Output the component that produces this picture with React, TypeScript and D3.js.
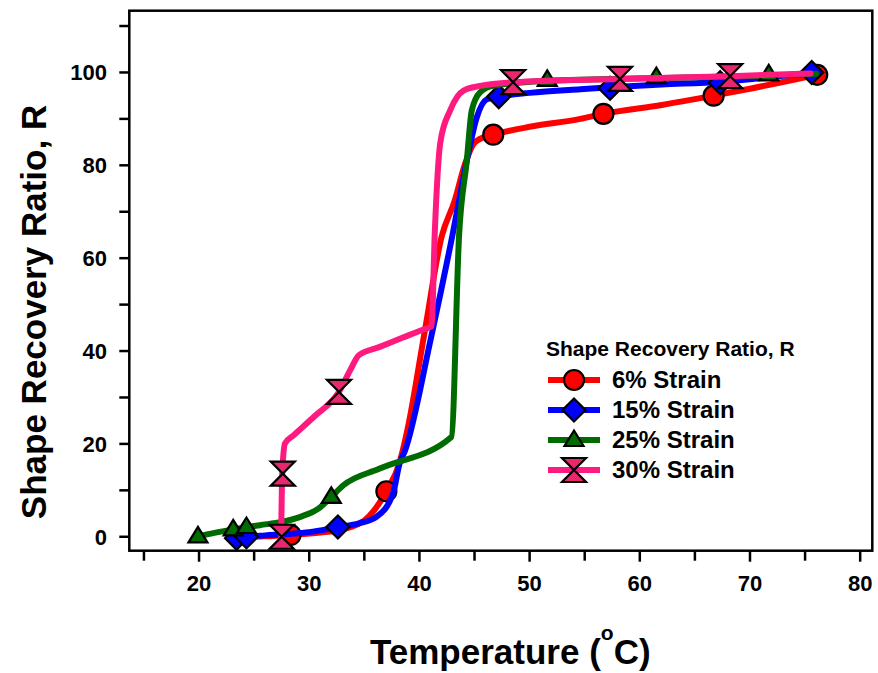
import React from "react";
import * as d3 from "d3";

type P = [number, number];

const xTicksMajor = [20, 30, 40, 50, 60, 70, 80];
const xTicksMinor = [15, 25, 35, 45, 55, 65, 75];
const yTicksMajor = [0, 20, 40, 60, 80, 100];
const yTicksMinor = [10, 30, 50, 70, 90, 110];

const seriesNames = ["6% Strain", "15% Strain", "25% Strain", "30% Strain"];
const seriesColors = ["#ff0000", "#0000ff", "#006b00", "#ff1a7f"];
const markerFills = ["#ff0000", "#0000ff", "#006b00", "#e8276f"];
const markerKinds = ["circle", "diamond", "triangle", "hourglass"];

const red6Line: P[] = [
  [24.0, 0.0], [26, 0.1], [28.3, 0.4], [31, 0.9], [33, 1.6], [35, 3.5], [37.0, 9.8],
  [38.2, 16], [38.9, 22.9], [40.5, 44.5], [42.0, 64.5], [43.2, 72.4], [44.1, 80],
  [44.9, 84.6], [45.5, 85.7], [46.7, 86.6], [50, 88.3], [54.6, 90], [56.7, 91.1],
  [62, 93], [66.7, 95.0], [70, 96.5], [76.1, 99.5],
];
const red6Marks: P[] = [[28.3, 0.4], [37.0, 9.8], [46.7, 86.6], [56.7, 91.1], [66.7, 95.0], [76.1, 99.5]];

const blue15Line: P[] = [
  [23.4, -0.3], [24.3, 0], [26, 0.3], [28, 0.6], [30, 1.0], [32.6, 2.1], [34.5, 2.9],
  [36.1, 4.3], [37.6, 9.3], [38.2, 15.8], [38.7, 18.6], [41.0, 42.3], [43.0, 65],
  [44.3, 81], [45.2, 90.3], [46.1, 94.2], [47.2, 94.8], [50, 95.6], [54.6, 96.4],
  [57.3, 96.8], [62, 97.4], [67.3, 98], [71, 98.8], [75.6, 100],
];
const blue15Marks: P[] = [[23.4, -0.3], [24.3, 0], [32.6, 2.1], [47.2, 94.8], [57.3, 96.6], [67.3, 97.8], [75.6, 100.0]];

const green25Line: P[] = [
  [19.9, 0.1], [21.5, 0.9], [23.1, 1.6], [25.5, 2.5], [27.5, 3.2], [29.2, 4.3],
  [30.8, 6], [32.0, 8.6], [33.1, 11.1], [36.4, 14.7], [42.9, 21.5], [43.6, 65],
  [44.3, 81], [44.75, 91.8], [45.5, 95.7], [46.7, 97.1], [51.6, 98.2], [61.5, 98.8],
  [71.7, 99.3], [76, 99.7],
];
const green25Marks: P[] = [[19.9, 0.1], [23.1, 1.6], [24.3, 2.1], [32.0, 8.6], [51.6, 98.4], [61.5, 99.0], [71.7, 99.6]];

const pink30Line: P[] = [
  [27.45, 0], [27.55, 13.6], [27.8, 20.1], [28.6, 21.9], [30.5, 26], [32.7, 31.2],
  [33.7, 35.8], [34.5, 39.1], [36.4, 40.9], [38.5, 42.9], [40.3, 44.6], [41.1, 45.3],
  [41.4, 65.9], [41.9, 85], [42.8, 91.9], [44.0, 96.1], [45.5, 97.1], [48.5, 97.9],
  [58.2, 98.6], [68.2, 99.2], [75.5, 99.8],
];
const pink30Marks: P[] = [[27.5, 0], [27.6, 13.6], [32.7, 31.2], [48.5, 97.9], [58.2, 98.6], [68.2, 99.2]];

const allLines = [red6Line, blue15Line, green25Line, pink30Line];
const allMarks = [red6Marks, blue15Marks, green25Marks, pink30Marks];

const W = 878;
const H = 673;
const left = 129.3, right = 872.3, top = 10.7, bottom = 550.7;
const FONT = "'Liberation Sans', Arial, Helvetica, sans-serif";

function Marker({ kind, fill, x, y }: { kind: string; fill: string; x: number; y: number }) {
  const common = { fill, stroke: "#000", strokeWidth: 2.2, strokeLinejoin: "miter" as const };
  if (kind === "circle") return <circle cx={x} cy={y} r={10} {...common} />;
  if (kind === "diamond")
    return <path d={`M${x},${y - 11.5}L${x + 11.5},${y}L${x},${y + 11.5}L${x - 11.5},${y}Z`} {...common} />;
  if (kind === "triangle")
    return <path d={`M${x},${y - 9.5}L${x + 9.5},${y + 6}L${x - 9.5},${y + 6}Z`} {...common} />;
  return (
    <path d={`M${x - 12},${y - 12}L${x + 12},${y - 12}L${x - 12},${y + 12}L${x + 12},${y + 12}Z`} {...common} />
  );
}

export default function App() {
  const x = d3.scaleLinear().domain([13.67, 81.1]).range([left, right]);
  const y = d3.scaleLinear().domain([-3.0, 113.3]).range([bottom, top]);
  const line = d3
    .line<P>()
    .x((d) => x(d[0]))
    .y((d) => y(d[1]))
    .curve(d3.curveMonotoneX);

  const legendX = 546;
  const legendRows = [380, 410, 440, 470];

  return (
    <svg
      width={W}
      height={H}
      style={{ position: "absolute", left: 0, top: 0, background: "#fff" }}
      fontFamily={FONT}
      fontWeight="bold"
    >
      <rect x={0} y={0} width={W} height={H} fill="#fff" />
      {allLines.map((pts, i) => (
        <g key={i}>
          <path d={line(pts) || ""} fill="none" stroke={seriesColors[i]} strokeWidth={6} strokeLinejoin="round" strokeLinecap="round" />
          {allMarks[i].map((m, j) => (
            <Marker key={j} kind={markerKinds[i]} fill={markerFills[i]} x={x(m[0])} y={y(m[1])} />
          ))}
        </g>
      ))}
      {/* frame */}
      <rect x={left} y={top} width={right - left} height={bottom - top} fill="none" stroke="#000" strokeWidth={2.5} />
      {/* y ticks */}
      {yTicksMajor.map((t) => (
        <g key={"ym" + t}>
          <line x1={left - 10} x2={left} y1={y(t)} y2={y(t)} stroke="#000" strokeWidth={2.5} />
          <text x={107} y={y(t)} dy="0.36em" textAnchor="end" fontSize={22}>
            {t}
          </text>
        </g>
      ))}
      {yTicksMinor.map((t) => (
        <line key={"yn" + t} x1={left - 10} x2={left} y1={y(t)} y2={y(t)} stroke="#000" strokeWidth={2.5} />
      ))}
      {/* x ticks */}
      {xTicksMajor.map((t) => (
        <g key={"xm" + t}>
          <line x1={x(t)} x2={x(t)} y1={bottom} y2={bottom + 11} stroke="#000" strokeWidth={2.5} />
          <text x={x(t)} y={591} textAnchor="middle" fontSize={22}>
            {t}
          </text>
        </g>
      ))}
      {xTicksMinor.map((t) => (
        <line key={"xn" + t} x1={x(t)} x2={x(t)} y1={bottom} y2={bottom + 10} stroke="#000" strokeWidth={2.5} />
      ))}
      {/* axis titles */}
      <text x={370} y={664} fontSize={35}>
        Temperature (<tspan fontSize={21} dy={-24}>o</tspan>
        <tspan dy={24}>C)</tspan>
      </text>
      <text transform={`translate(46,312) rotate(-90)`} textAnchor="middle" fontSize={35}>
        Shape Recovery Ratio, R
      </text>
      {/* legend */}
      <text x={legendX} y={356} fontSize={21}>
        Shape Recovery Ratio, R
      </text>
      {seriesNames.map((name, i) => (
        <g key={name}>
          <line x1={548} x2={600} y1={legendRows[i]} y2={legendRows[i]} stroke={seriesColors[i]} strokeWidth={6} />
          <Marker kind={markerKinds[i]} fill={markerFills[i]} x={574} y={legendRows[i]} />
          <text x={612} y={legendRows[i] + 8} fontSize={24}>
            {name}
          </text>
        </g>
      ))}
    </svg>
  );
}
